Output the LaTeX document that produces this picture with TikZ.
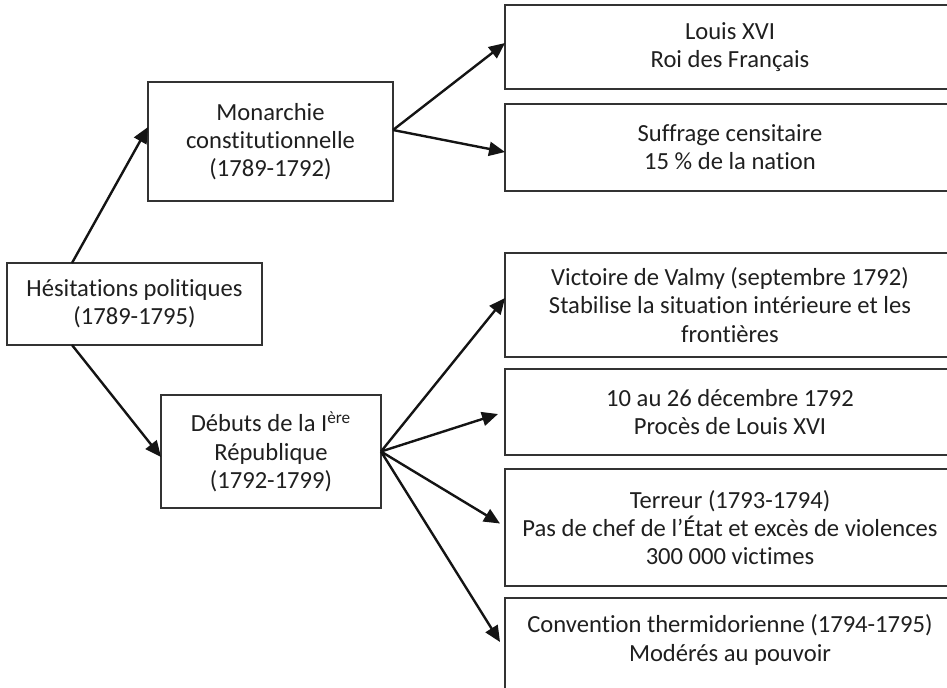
\documentclass[tikz,border=0pt]{standalone}
\usepackage{fontspec}
\setmainfont{Carlito}[Ligatures={NoCommon}]
\usetikzlibrary{arrows.meta}
\tikzset{
  box/.style={draw=black!80, line width=0.8pt, rectangle, inner sep=0pt, outer sep=0pt,
    align=center, text=black!88, font=\fontsize{12.3}{14.1}\selectfont},
  conn/.style={line width=1.2pt, black!92, -{Triangle[length=8pt,width=7pt]}}
}
\begin{document}
\begin{tikzpicture}[x=0.5pt,y=-0.5pt]
\useasboundingbox (0,0) rectangle (947,687);
\node[box, minimum width=127.5pt, minimum height=41pt] (hes) at (134.5,304)
  {Hésitations politiques\\(1789-1795)};
\node[box, minimum width=122.5pt, minimum height=59.5pt] (mon) at (270.5,141.5)
  {Monarchie\\constitutionnelle\\(1789-1792)};
\node[box, minimum width=110pt, minimum height=56.5pt] (deb) at (271,451.5)
  {Débuts de la I\textsuperscript{ère}\\République\\(1792-1799)};
\node[box, minimum width=225pt, minimum height=42pt] (louis) at (730,47)
  {Louis XVI\\Roi des Français};
\node[box, minimum width=225pt, minimum height=43.5pt] (suf) at (730,147.5)
  {Suffrage censitaire\\15 \% de la nation};
\node[box, minimum width=225pt, minimum height=52pt] (vic) at (730,305)
  {Victoire de Valmy (septembre 1792)\\Stabilise la situation intérieure et les\\frontières};
\node[box, minimum width=225pt, minimum height=43pt] (proc) at (730,412)
  {10 au 26 décembre 1792\\Procès de Louis XVI};
\node[box, minimum width=225pt, minimum height=58.5pt] (ter) at (730,527.5)
  {Terreur (1793-1794)\\Pas de chef de l’État et excès de violences\\300 000 victimes};
\node[box, draw=none, minimum width=225pt, minimum height=42pt] (conv) at (730,640)
  {Convention thermidorienne (1794-1795)\\Modérés au pouvoir};
\draw[draw=black!80, line width=0.8pt] ([yshift=-60pt]conv.north west) -- (conv.north west) -- (conv.north east);

\draw[conn] ([xshift=-31.25pt]hes.north) -- ([yshift=7.25pt]mon.west);
\draw[conn] ([xshift=-31.25pt]hes.south) -- ([yshift=-2.75pt]deb.west);
\draw[conn] ([yshift=5.75pt]mon.east) -- ([yshift=2pt]louis.west);
\draw[conn] ([yshift=5.75pt]mon.east) -- ([yshift=-2.25pt]suf.west);
\draw[conn] (deb.east) -- ([yshift=3.5pt]vic.west);
\draw[conn] (deb.east) -- ([xshift=-3.5pt,yshift=-1pt]proc.west);
\draw[conn] (deb.east) -- ([xshift=-2.5pt,yshift=2pt]ter.west);
\draw[conn] (deb.east) -- ([xshift=-2.5pt,yshift=-1pt]conv.west);
\end{tikzpicture}
\end{document}
